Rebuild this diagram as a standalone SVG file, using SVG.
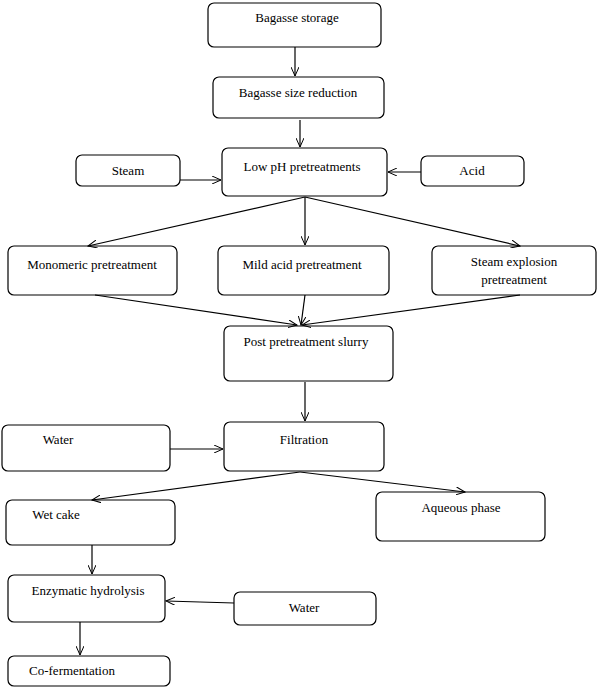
<svg xmlns="http://www.w3.org/2000/svg" width="602" height="692" viewBox="0 0 602 692">
<defs><marker id="a" markerWidth="10" markerHeight="8" refX="9" refY="4" orient="auto" markerUnits="userSpaceOnUse"><path d="M0,0 L9,4 L0,8" fill="none" stroke="#000" stroke-width="1"/></marker></defs>
<style>.b{fill:#fff;stroke:#000;stroke-width:1.2}text{font-family:"Liberation Serif",serif;font-size:13px;fill:#000}line{stroke:#000;stroke-width:1.2;marker-end:url(#a)}.m{text-anchor:middle}</style>
<rect width="602" height="692" fill="#fff"/>
<g id="n1"><rect class="b" x="208" y="3" width="173" height="44" rx="6"/><text x="297" y="22" class="m">Bagasse storage</text></g>
<g id="n2"><rect class="b" x="213" y="77" width="171" height="41" rx="6"/><text x="298" y="97" class="m">Bagasse size reduction</text></g>
<g id="n3"><rect class="b" x="76" y="155" width="104" height="31" rx="6"/><text x="128" y="175" class="m">Steam</text></g>
<g id="n4"><rect class="b" x="222" y="148" width="165" height="48" rx="6"/><text x="302" y="171" class="m">Low pH pretreatments</text></g>
<g id="n5"><rect class="b" x="421" y="156" width="103" height="30" rx="6"/><text x="472" y="175" class="m">Acid</text></g>
<g id="n6"><rect class="b" x="8" y="246" width="169" height="49" rx="6"/><text x="92" y="269" class="m">Monomeric pretreatment</text></g>
<g id="n7"><rect class="b" x="218" y="246" width="171" height="49" rx="6"/><text x="302" y="269" class="m">Mild acid pretreatment</text></g>
<g id="n8"><rect class="b" x="432" y="246" width="164" height="49" rx="6"/><text x="514" y="266" class="m">Steam explosion</text><text x="514" y="284" class="m">pretreatment</text></g>
<g id="n9"><rect class="b" x="224" y="326" width="169" height="55" rx="6"/><text x="306" y="346" class="m">Post pretreatment slurry</text></g>
<g id="n10"><rect class="b" x="2" y="425" width="168" height="46" rx="6"/><text x="58" y="444" class="m">Water</text></g>
<g id="n11"><rect class="b" x="224" y="422" width="160" height="49" rx="6"/><text x="304" y="444" class="m">Filtration</text></g>
<g id="n12"><rect class="b" x="6" y="500" width="169" height="45" rx="6"/><text x="56" y="519" class="m">Wet cake</text></g>
<g id="n13"><rect class="b" x="376" y="492" width="169" height="49" rx="6"/><text x="461" y="512" class="m">Aqueous phase</text></g>
<g id="n14"><rect class="b" x="8" y="575" width="157" height="47" rx="6"/><text x="88" y="595" class="m">Enzymatic hydrolysis</text></g>
<g id="n15"><rect class="b" x="234" y="592" width="142" height="33" rx="6"/><text x="304" y="612" class="m">Water</text></g>
<g id="n16"><rect class="b" x="8" y="656" width="162" height="30" rx="6"/><text x="72" y="675" class="m">Co-fermentation</text></g>
<g id="edges">
<line x1="295" y1="47" x2="295" y2="76"/>
<line x1="300" y1="120" x2="300" y2="147"/>
<line x1="180" y1="180" x2="221" y2="180"/>
<line x1="421" y1="172" x2="388" y2="172"/>
<line x1="305" y1="197" x2="88" y2="246"/>
<line x1="305" y1="197" x2="305" y2="245"/>
<line x1="305" y1="197" x2="520" y2="246"/>
<line x1="95" y1="295" x2="297" y2="325"/>
<line x1="305" y1="295" x2="301" y2="325"/>
<line x1="520" y1="295" x2="302" y2="325"/>
<line x1="305" y1="382" x2="305" y2="421"/>
<line x1="170" y1="449" x2="223" y2="449"/>
<line x1="300" y1="472" x2="92" y2="500"/>
<line x1="300" y1="472" x2="465" y2="492"/>
<line x1="92" y1="545" x2="92" y2="574"/>
<line x1="234" y1="603" x2="166" y2="601"/>
<line x1="80" y1="622" x2="80" y2="655"/>
</g>
</svg>
